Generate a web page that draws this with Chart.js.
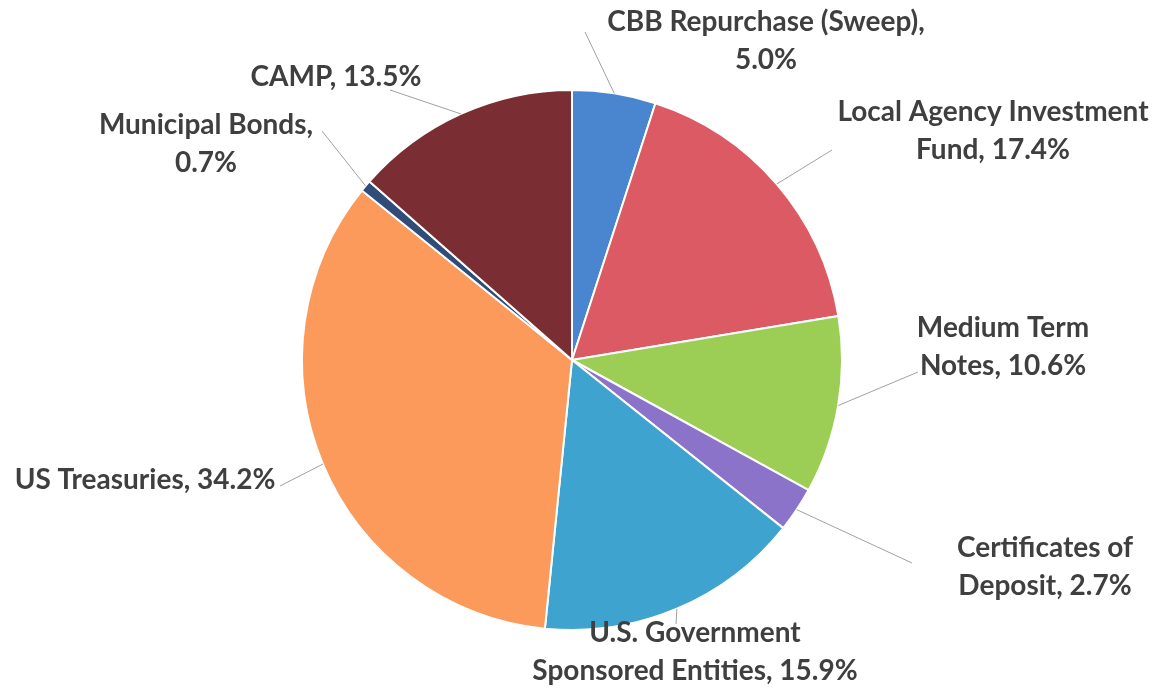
<!DOCTYPE html>
<html>
<head>
<meta charset="utf-8">
<script src="https://cdn.jsdelivr.net/npm/chart.js@4"></script>
<style>
    html, body { margin: 0; padding: 0; background: #fff; }
    #wrap { width: 1155px; height: 688px; position: relative; }
</style>
</head>
<body>
<div id="wrap"><canvas id="chart1"></canvas></div>
<script>
// data, clockwise from 12 o'clock
const categories = [
    ['CBB Repurchase (Sweep),', '5.0%'],
    ['Local Agency Investment', 'Fund, 17.4%'],
    ['Medium Term', 'Notes, 10.6%'],
    ['Certificates of', 'Deposit, 2.7%'],
    ['U.S. Government', 'Sponsored Entities, 15.9%'],
    ['US Treasuries, 34.2%'],
    ['Municipal Bonds,', '0.7%'],
    ['CAMP, 13.5%']
];
const shares = [5.0, 17.4, 10.6, 2.7, 15.9, 34.2, 0.7, 13.5];
const colors = ['#4a86d0', '#dc5a64', '#9ccd55', '#8b73c9', '#3ea3cf', '#fb9a5a', '#2f4d78', '#7a2e33'];

// label text centre (x, first line y) and leader line end point
const labelPos = [
    [766, 22, 585, 32],
    [993, 112, 832, 150],
    [1003, 328, 918, 372],
    [1045, 548, 912, 563],
    [695, 633, 676, 624],
    [145, 480, 280, 486],
    [206, 125, 322, 131],
    [336, 77, 390, 90]
];

const outsideLabels = {
    id: 'outsideLabels',
    afterDraw(chart) {
        const ctx = chart.ctx;
        const arcs = chart.getDatasetMeta(0).data;
        ctx.save();
        arcs.forEach((arc, i) => {
            const p = arc.getProps(['x', 'y', 'startAngle', 'endAngle', 'outerRadius'], true);
            const mid = (p.startAngle + p.endAngle) / 2;
            const sx = p.x + Math.cos(mid) * p.outerRadius;
            const sy = p.y + Math.sin(mid) * p.outerRadius;
            const [tx, ty, ex, ey] = labelPos[i];
            ctx.strokeStyle = '#a0a0a0';
            ctx.lineWidth = 1;
            ctx.beginPath();
            ctx.moveTo(sx, sy);
            ctx.lineTo(ex, ey);
            ctx.stroke();

            ctx.fillStyle = '#3f3f3f';
            ctx.font = 'bold 28px Lato';
            ctx.textAlign = 'center';
            ctx.textBaseline = 'middle';
            categories[i].forEach((line, j) => {
                ctx.fillText(line, tx, ty + j * 38);
            });
        });
        ctx.restore();
    }
};

new Chart(document.getElementById('chart1'), {
    type: 'pie',
    data: {
        labels: categories.map(c => c.join(' ')),
        datasets: [{
            data: shares,
            backgroundColor: colors,
            borderColor: '#ffffff',
            borderWidth: 2
        }]
    },
    options: {
        responsive: true,
        maintainAspectRatio: false,
        animation: false,
        layout: {
            padding: { top: 88, bottom: 56, left: 301, right: 312 }
        },
        plugins: {
            legend: { display: false },
            tooltip: { enabled: false }
        }
    },
    plugins: [outsideLabels]
});
</script>
</body>
</html>
